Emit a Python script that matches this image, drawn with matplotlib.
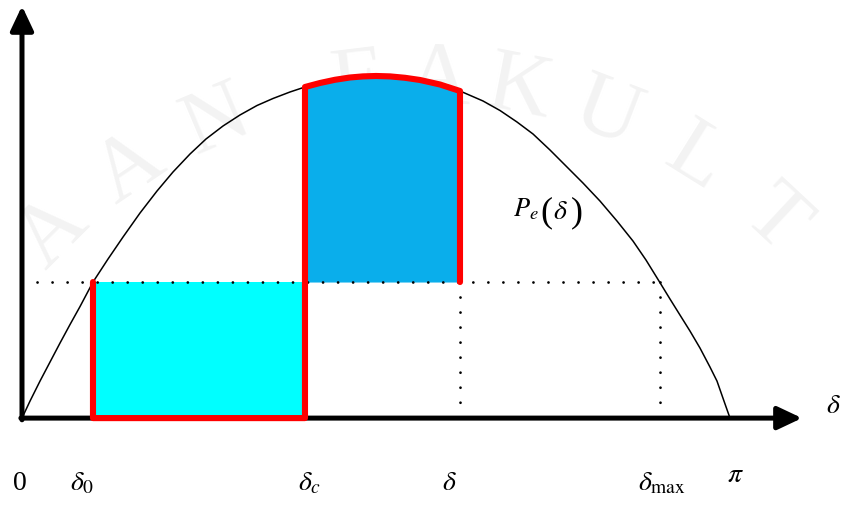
import numpy as np
import matplotlib
matplotlib.use("Agg")
import matplotlib.pyplot as plt

plt.rcParams["mathtext.fontset"] = "stix"
plt.rcParams["font.family"] = ["Liberation Serif", "DejaVu Serif"]

# Power-angle curve P_e(delta): rotor angle in rad, power per-unit of the peak
delta_pts = np.array([
    0.0, 0.0355, 0.0799, 0.1242, 0.1686, 0.2130, 0.2574, 0.3150, 0.3816, 0.4482,
    0.5236, 0.5990, 0.6700, 0.7455, 0.8165, 0.8919, 0.9673, 1.0428, 1.1138, 1.1892,
    1.2557, 1.3223, 1.3889, 1.4554, 1.5131, 1.5708, 1.6329, 1.6995, 1.7660, 1.8548,
    1.9435, 2.0456, 2.1210, 2.1964, 2.2675, 2.3429, 2.4139, 2.4893, 2.5647, 2.6402,
    2.7112, 2.7689, 2.8265, 2.8754, 2.9197, 2.9641, 3.0085, 3.0529, 3.0839, 3.1150,
    3.1416])
pe_pts = np.array([
    0.0, 0.0497, 0.1082, 0.1637, 0.2193, 0.2734, 0.3260, 0.3977, 0.4649, 0.5292,
    0.5994, 0.6637, 0.7193, 0.7719, 0.8158, 0.8538, 0.8860, 0.9137, 0.9342, 0.9532,
    0.9678, 0.9795, 0.9889, 0.9956, 0.9988, 1.0000, 0.9988, 0.9947, 0.9883, 0.9751,
    0.9561, 0.9269, 0.8991, 0.8655, 0.8304, 0.7836, 0.7368, 0.6871, 0.6345, 0.5760,
    0.5175, 0.4620, 0.4006, 0.3480, 0.3012, 0.2544, 0.2047, 0.1491, 0.1082, 0.0497,
    0.0])

# Mechanical input power and characteristic angles
p_m = 0.3977
delta_0 = 0.3150
delta_c = 1.2557
delta_x = 1.9435
delta_max = 2.831
delta_pi = np.pi

# Angle labels under the horizontal axis
angle_labels = ["0", r"$\delta_0$", r"$\delta_c$", r"$\delta$", r"$\delta_{\mathrm{max}}$", r"$\pi$"]
angle_values = [0.0, delta_0, delta_c, delta_x, delta_max, delta_pi]
label_dx_px = [-2, -11, 5, -11, 2, 5]
label_base_px = [490, 490, 490, 490, 490, 482]

fig = plt.figure(figsize=(8.43, 5.06), dpi=100)
ax = fig.add_axes([0, 0, 1, 1])
ax.set_xlim(-0.0976, 3.643)
ax.set_ylim(-0.254, 1.225)
ax.axis("off")


def px_to_x(px):
    return (px - 22) * np.pi / 708.0


def px_to_y(py):
    return (419 - py) / 342.0


# faint watermark lettering along an arc
wm_letters = ["A", "A", "N", "F", "A", "K", "U", "L", "T"]
wm_angles = [135, 124, 113, 97, 88, 79, 69, 58, 47]
for ch, a in zip(wm_letters, wm_angles):
    t = np.deg2rad(a)
    ax.text(px_to_x(420 + 520 * np.cos(t)), px_to_y(600 - 520 * np.sin(t)), ch,
            fontsize=64, color="#f3f3f3", ha="center", va="center",
            rotation=a - 90, zorder=0, family="Liberation Serif")

# accelerating area (A1) and decelerating area (A2)
ax.fill_between([delta_0, delta_c], 0, p_m, color="#00ffff", lw=0, zorder=1)
seg = (delta_pts >= delta_c - 1e-6) & (delta_pts <= delta_x + 1e-6)
ax.fill_between(delta_pts[seg], p_m, pe_pts[seg], color="#0aaeeb", lw=0, zorder=1)

# power-angle curve
ax.plot(delta_pts, pe_pts, color="black", lw=1.1, zorder=2)

# dotted guides
dot_style = dict(color="black", lw=2.0, linestyle=(0, (0.01, 5.4)),
                 dash_capstyle="round", zorder=3)
ax.plot([0.0, delta_max], [p_m, p_m], **dot_style)
ax.plot([delta_x, delta_x], [p_m, 0], **dot_style)
ax.plot([delta_max, delta_max], [p_m, 0], **dot_style)

# axes with arrow heads
arrow_kw = dict(arrowstyle="-|>,head_length=0.36,head_width=0.17", lw=3.6,
                color="black", shrinkA=0, shrinkB=0, mutation_scale=41)
ax.annotate("", xy=(0, px_to_y(7)), xytext=(0, -0.005), arrowprops=arrow_kw, zorder=3)
ax.annotate("", xy=(px_to_x(802), 0), xytext=(-0.005, 0), arrowprops=arrow_kw, zorder=3)

# outline of the swing trajectory
path_x = [delta_0, delta_0, delta_c] + list(delta_pts[seg]) + [delta_x]
path_y = [p_m, 0, 0] + list(pe_pts[seg]) + [p_m]
ax.plot(path_x, path_y, color="#ff0000", lw=4.4, solid_joinstyle="round",
        solid_capstyle="round", zorder=4)

# labels
for lab, val, dx, base in zip(angle_labels, angle_values, label_dx_px, label_base_px):
    ax.annotate(lab, xy=(val, px_to_y(base)), xytext=(dx * 0.72, 0),
                textcoords="offset points", ha="center", va="baseline",
                fontsize=20, zorder=5)

ax.text(px_to_x(826), px_to_y(413), r"$\delta$", fontsize=20,
        ha="left", va="baseline", zorder=5)

# curve label P_e(delta) with tall parentheses
ax.text(px_to_x(513), px_to_y(216), r"$P_e$", fontsize=19, ha="left", va="baseline", zorder=5)
ax.text(px_to_x(540), px_to_y(221), "(", fontsize=26, ha="left", va="baseline",
        zorder=5, family="Liberation Serif")
ax.text(px_to_x(553), px_to_y(219), r"$\delta$", fontsize=20, ha="left", va="baseline", zorder=5)
ax.text(px_to_x(571), px_to_y(221), ")", fontsize=26, ha="left", va="baseline",
        zorder=5, family="Liberation Serif")

fig.savefig("out.png", dpi=100)
